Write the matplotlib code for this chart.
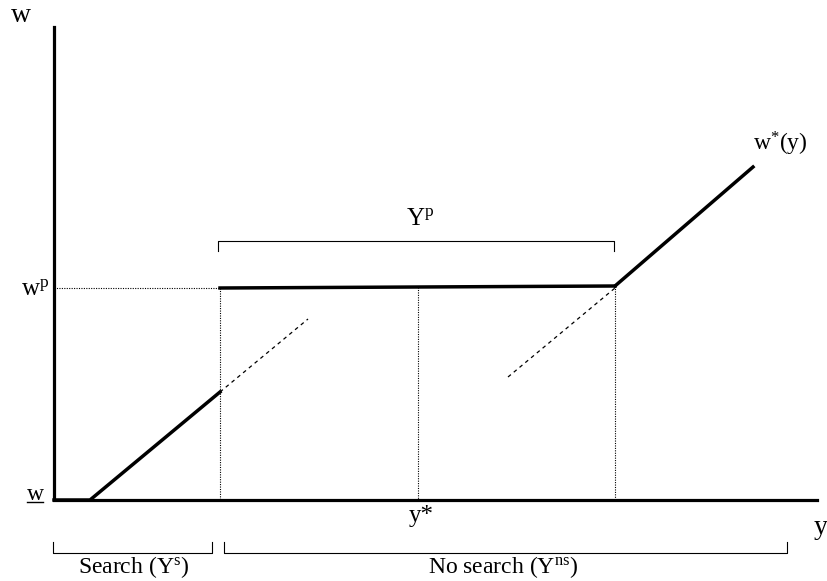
import matplotlib.pyplot as plt

plt.rcParams['font.family'] = ['Liberation Serif', 'DejaVu Serif']
plt.rcParams['mathtext.default'] = 'regular'

# Diagram points (pixel space of the original figure, y grows downward).
axis_x = [54, 54, 817]
axis_y = [27, 500, 500]

# w*(y): floor, search segment, flat w^p segment, rising segment.
wstar_x = [54, 90, 220]
wstar_y = [500, 500, 392]
flat_x = [220, 418, 615]
flat_y = [288, 287, 286]
rise_x = [615, 753]
rise_y = [286, 167]

# Dashed continuations of the wage schedule.
dash1_x = [220, 308]
dash1_y = [392, 319]
dash2_x = [508, 615]
dash2_y = [377, 288]

# Dotted guides.
guide_wp_x = [54, 220]
guide_wp_y = [288, 288]
guide_v_x = [220, 418, 615]
guide_top = [288, 287, 286]

# Brackets: (left, right, level, tip).
yp_bracket = [218, 614, 241, 251]
search_bracket = [53, 212, 553, 542]
nosearch_bracket = [224, 787, 553, 542]

fig = plt.figure(figsize=(8.28, 5.81), dpi=100)
ax = fig.add_axes([0, 0, 1, 1])
ax.set_xlim(0, 828)
ax.set_ylim(581, 0)
ax.axis('off')

ax.plot(axis_x, axis_y, color='black', lw=2.3, solid_joinstyle='miter')
ax.plot(wstar_x, wstar_y, color='black', lw=2.5)
ax.plot(flat_x, flat_y, color='black', lw=2.5)
ax.plot(rise_x, rise_y, color='black', lw=2.5)

ax.plot(dash1_x, dash1_y, color='black', lw=0.9, linestyle=(0, (3, 3)))
ax.plot(dash2_x, dash2_y, color='black', lw=0.9, linestyle=(0, (3, 3)))

ax.plot(guide_wp_x, guide_wp_y, color='black', lw=0.8, linestyle=(0, (1, 1.2)))
for gx, gt in zip(guide_v_x, guide_top):
    ax.plot([gx, gx], [gt, 500], color='black', lw=0.8, linestyle=(0, (1, 1.2)))


def bracket(b):
    left, right, level, tip = b
    ax.plot([left, left, right, right], [tip, level, level, tip],
            color='black', lw=0.8)


bracket(yp_bracket)
bracket(search_bracket)
bracket(nosearch_bracket)

# Labels.
ax.text(21, 16, 'w', fontsize=20, ha='center', va='center')
ax.text(35, 290, '$w^p$', fontsize=18, ha='center', va='center')
ax.text(35, 494, 'w', fontsize=17, ha='center', va='center')
ax.plot([27, 43], [502, 502], color='black', lw=1.0)
ax.text(780, 144, '$w^{*}(y)$', fontsize=17, ha='center', va='center')
ax.text(420, 219, '$Y^p$', fontsize=18, ha='center', va='center')
ax.text(421, 516, 'y*', fontsize=18, ha='center', va='center')
ax.text(821, 527, 'y', fontsize=20, ha='center', va='center')
ax.text(134, 567, 'Search $(Y^s)$', fontsize=17, ha='center', va='center')
ax.text(503, 567, 'No search $(Y^{ns})$', fontsize=17, ha='center', va='center')

plt.savefig('out.png', dpi=100)
plt.close()
